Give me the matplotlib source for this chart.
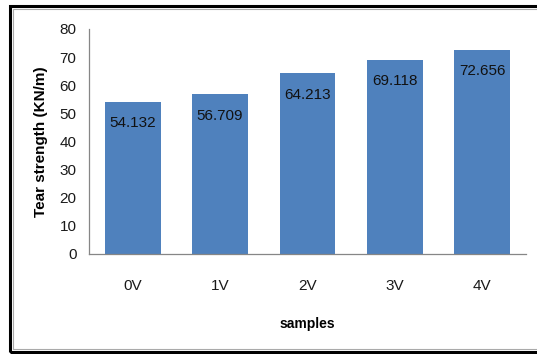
import matplotlib.pyplot as plt
from matplotlib.patches import Rectangle

from matplotlib import rcParams
rcParams['font.family'] = ['Liberation Sans', 'DejaVu Sans']

samples = ['0V', '1V', '2V', '3V', '4V']
tear_strength = [54.132, 56.709, 64.213, 69.118, 72.656]
y_ticks = [0, 10, 20, 30, 40, 50, 60, 70, 80]

bar_color = '#4F81BD'
axis_color = '#868686'


def main():
  fig = plt.figure(figsize=(5.37, 3.54), dpi=100)
  ax = fig.add_axes([0.1657, 0.2825, 0.8138, 0.6356])

  x = range(len(samples))
  bars = ax.bar(x, tear_strength, width=0.64, color=bar_color, zorder=2)

  # value labels sit just inside the top of each bar
  for rect, val in zip(bars, tear_strength):
    ax.annotate(f'{val:.3f}', xy=(rect.get_x() + rect.get_width() / 2, val),
                xytext=(0, -15.5), textcoords='offset points',
                ha='center', va='center', fontsize=11, color='#111111')

  ax.set_xlim(-0.5, len(samples) - 0.5)
  ax.set_ylim(0, 80)
  ax.set_yticks(y_ticks)
  ax.set_xticks(list(x))
  ax.set_xticklabels(samples)
  ax.tick_params(axis='y', length=0, pad=9, labelsize=11, labelcolor='#1a1a1a')
  ax.tick_params(axis='x', length=0, pad=18, labelsize=11, labelcolor='#1a1a1a')

  for side in ['top', 'right']:
    ax.spines[side].set_visible(False)
  for side in ['left', 'bottom']:
    ax.spines[side].set_color(axis_color)
    ax.spines[side].set_linewidth(0.9)

  ax.set_xlabel('samples', fontsize=10, fontweight='bold', labelpad=17)
  ax.set_ylabel('Tear strength (KN/m)', fontsize=11, fontweight='bold', labelpad=8)

  # chart frame
  fig.patches.append(Rectangle((10 / 537, 2 / 354), 1.2, 346 / 354, transform=fig.transFigure,
                               fill=False, edgecolor='black', linewidth=2.2))
  fig.patches.append(Rectangle((13 / 537, 5 / 354), 1.2, 340 / 354, transform=fig.transFigure,
                               fill=False, edgecolor='#aaaaaa', linewidth=0.8))

  fig.savefig('out.png', dpi=100)


if __name__ == "__main__":
  main()
